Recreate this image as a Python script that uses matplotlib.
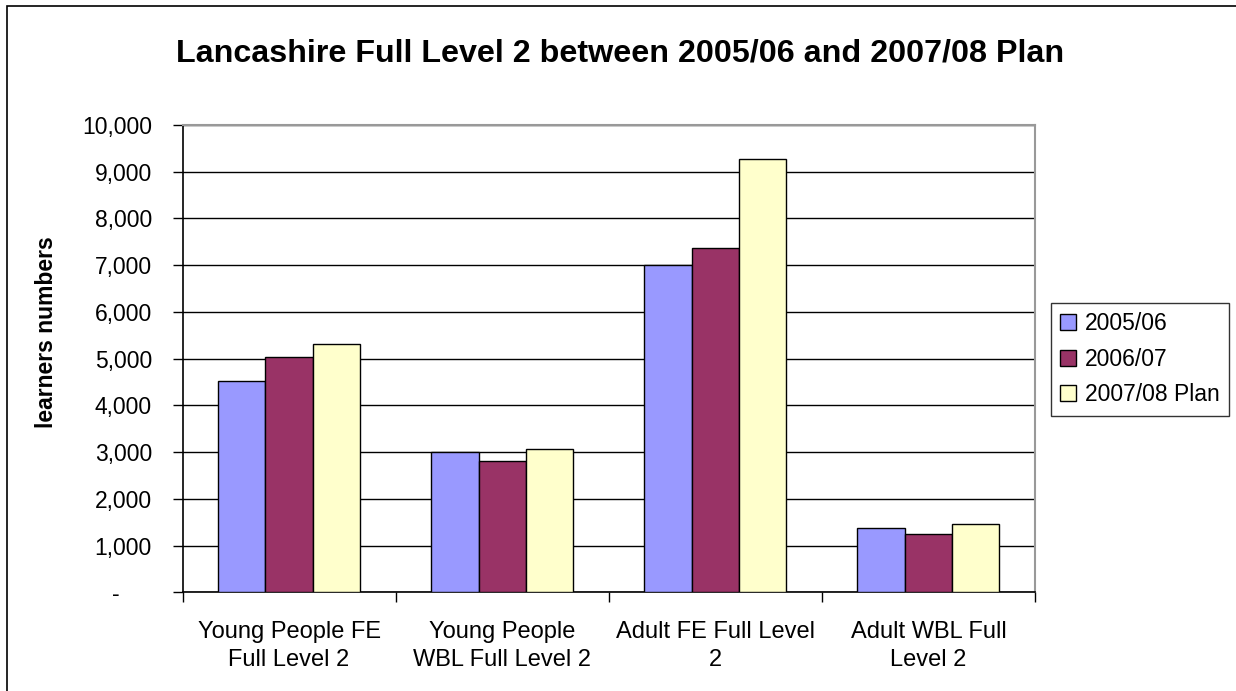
import matplotlib.pyplot as plt
import matplotlib.patches as mpatches
import numpy as np
from matplotlib.ticker import FuncFormatter

plt.rcParams['font.family'] = ['Liberation Sans', 'DejaVu Sans']

# data
categories = ['Young People FE\nFull Level 2', 'Young People\nWBL Full Level 2',
              'Adult FE Full Level\n2', 'Adult WBL Full\nLevel 2']
series_names = ['2005/06', '2006/07', '2007/08 Plan']
vals_0506 = [4520, 3000, 7000, 1370]
vals_0607 = [5040, 2800, 7370, 1240]
vals_0708 = [5310, 3060, 9280, 1470]
colors = ['#9999FF', '#993366', '#FFFFCC']

fig = plt.figure(figsize=(12.36, 6.91), dpi=100)
ax = fig.add_axes([182.5/1236, 98.7/691, (1035-182.5)/1236, (592.3-125)/691])

x = np.arange(len(categories))
w = 1/4.5
for k, (vals, name, c) in enumerate(zip([vals_0506, vals_0607, vals_0708], series_names, colors)):
    ax.bar(x + (k-1)*w, vals, w, color=c, edgecolor='black', linewidth=1.0, label=name, zorder=3)

ax.set_ylim(0, 10000)
ax.set_xlim(-0.5, 3.5)
ax.set_yticks(np.arange(0, 10001, 1000))
ax.yaxis.set_major_formatter(FuncFormatter(lambda v, p: '-     ' if v == 0 else f'{int(v):,}'))
ax.grid(axis='y', color='black', linewidth=1.0, zorder=0)
ax.set_axisbelow(True)

# category boundaries as ticks, labels in the middle
ax.set_xticks(np.arange(-0.5, 4, 1))
ax.set_xticklabels([])
ax.set_xticks(x, minor=True)
ax.set_xticklabels(categories, minor=True, fontsize=17, linespacing=1.3)
ax.tick_params(axis='x', which='minor', length=0, pad=21)
ax.tick_params(axis='x', which='major', direction='out', length=7, width=1, color='black')
ax.tick_params(axis='y', direction='out', length=7, width=1, labelsize=16.5, pad=15)

for s in ['left', 'bottom']:
    ax.spines[s].set_color('black')
    ax.spines[s].set_linewidth(1.2)
for s in ['top', 'right']:
    ax.spines[s].set_color('#999999')
    ax.spines[s].set_linewidth(1.5)

fig.text(0.502, 1 - 61/691, 'Lancashire Full Level 2 between 2005/06 and 2007/08 Plan',
         ha='center', va='baseline', fontsize=23.2, fontweight='bold')
fig.text(47/1236, 1 - 332/691, 'learners numbers', rotation=90, ha='center', va='center',
         fontsize=16.5, fontweight='bold')

leg = fig.legend(loc='upper left', bbox_to_anchor=(1051/1236, 1 - 303/691), fontsize=16.5,
                 frameon=True, fancybox=False, edgecolor='black', handlelength=0.7,
                 handleheight=0.7, handletextpad=0.4, labelspacing=0.55, borderpad=0.4,
                 borderaxespad=0)
leg.get_frame().set_linewidth(1.0)

# outer chart border
fig.patches.append(mpatches.Rectangle((7/1236, -0.1), 1.2, (691-6)/691 + 0.1, fill=False,
                                      edgecolor='black', linewidth=1.2,
                                      transform=fig.transFigure, figure=fig))

fig.savefig('out.png', dpi=100)
